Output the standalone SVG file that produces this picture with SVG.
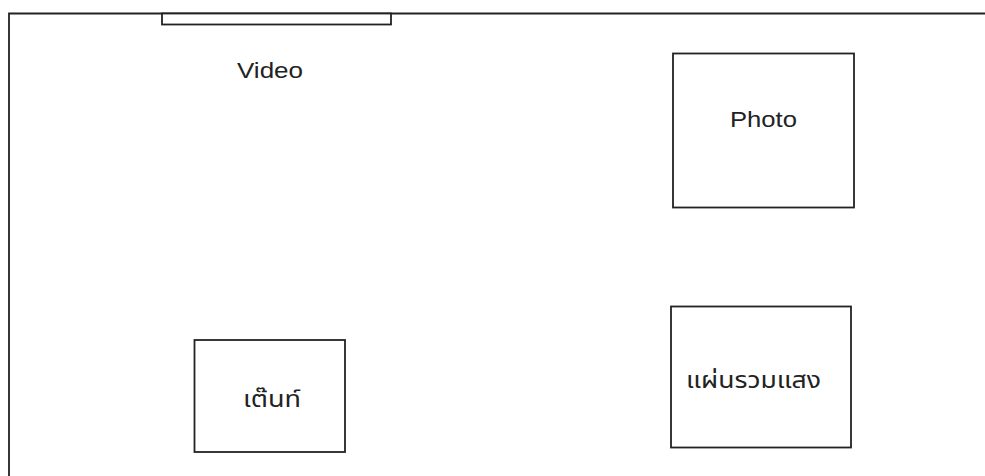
<svg xmlns="http://www.w3.org/2000/svg" width="985" height="476" viewBox="0 0 985 476">
<style>
.ln{fill:none;stroke:#222;stroke-width:1.8}
.box{fill:#fff;stroke:#222;stroke-width:1.8}
.lbl{font-family:"Liberation Sans","Noto Sans Thai","Noto Sans",sans-serif;font-size:22px;fill:#222}
.th{font-family:"Noto Sans Thai","Noto Sans","Liberation Sans",sans-serif;font-size:23px;fill:#222}
</style>
<rect width="985" height="476" fill="#fff"/>
<g id="room">
<path class="ln" d="M9,476 V13.5 H985"/>
</g>
<g id="video">
<rect class="box" x="162" y="13.5" width="229" height="11"/>
<text class="lbl" x="237" y="78" textLength="66" lengthAdjust="spacingAndGlyphs">Video</text>
</g>
<g id="photo">
<rect class="box" x="673" y="53.5" width="181" height="154"/>
<text class="lbl" x="730" y="127" textLength="67" lengthAdjust="spacingAndGlyphs">Photo</text>
</g>
<g id="tent">
<rect class="box" x="194.5" y="340" width="150.5" height="112"/>
<text class="th" x="243" y="407" textLength="58" lengthAdjust="spacingAndGlyphs">เต๊นท์</text>
</g>
<g id="light-board">
<rect class="box" x="671" y="306.5" width="180" height="141"/>
<text class="th" x="686" y="388" textLength="135" lengthAdjust="spacingAndGlyphs">แผ่นรวมแสง</text>
</g>
<g id="connectors"/>
</svg>
